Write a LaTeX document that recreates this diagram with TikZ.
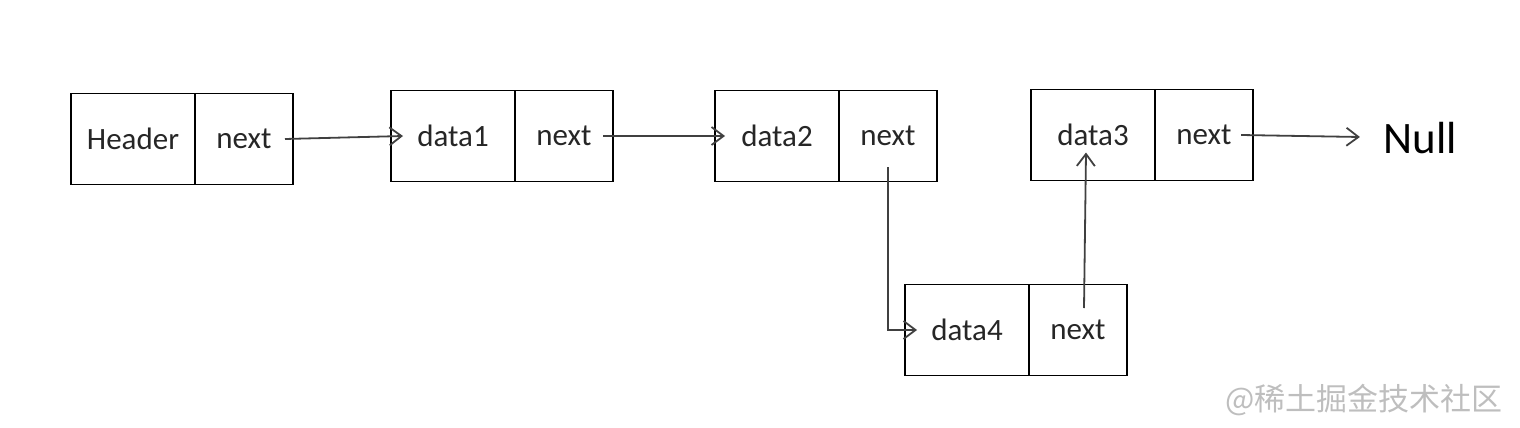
\documentclass[tikz,border=0pt]{standalone}
\usepackage{fontspec}
\setmainfont{Carlito}
\newfontfamily\cjk{Noto Sans CJK SC}
\usetikzlibrary{positioning, arrows.meta}

\definecolor{inkgray}{RGB}{38,38,38}
\definecolor{linkgray}{RGB}{64,64,64}
\definecolor{markgray}{RGB}{190,190,190}

\tikzset{
  cell/.style={draw=black, line width=0.9pt, minimum height=45.5pt, inner sep=0pt, outer sep=0pt,
    text=inkgray, font=\fontsize{15.5}{18}\selectfont},
  datacell/.style={cell, minimum width=62pt},
  nextcell/.style={cell, minimum width=49pt},
  link/.style={draw=linkgray, line width=0.9pt, -{Straight Barb[length=6pt,width=9pt]}}
}

\begin{document}
\begin{tikzpicture}[x=0.5pt, y=-0.5pt]
  \useasboundingbox (0,0) rectangle (1520,428);

  % top row
  \node[datacell] (hdr) at (133,139) {Header};
  \node[nextcell] (hdrn) [right=0pt of hdr] {next};
  \node[datacell] (d1) at (453,136) {data1};
  \node[nextcell] (d1n) [right=0pt of d1] {next};
  \node[datacell] (d2) at (777,136) {data2};
  \node[nextcell] (d2n) [right=0pt of d2] {next};
  \node[datacell] (d3) at (1093,135) {data3};
  \node[nextcell] (d3n) [right=0pt of d3] {next};
  \node[text=black, inner xsep=11.5pt, inner ysep=0pt, font=\fontsize{22.5}{26}\selectfont]
    (null) at (1420,138) {Null};

  % inserted node
  \node[datacell] (d4) at (967,330) {data4};
  \node[nextcell] (d4n) [right=0pt of d4] {next};

  \coordinate (d3in) at ([xshift=-3.5pt,yshift=14pt]d3.south);

  % links
  \draw[link] ([xshift=-4pt]hdrn.east) -- ([xshift=6pt]d1.west);
  \draw[link] ([xshift=-5pt]d1n.east) -- ([xshift=5pt]d2.west);
  \draw[link] ([yshift=-15.5pt]d2n.center) |- ([xshift=6pt]d4.west);
  \draw[link] ([xshift=3pt,yshift=11pt]d4n.center) -- (d3in);
  \draw[link] ([xshift=-6pt]d3n.east) -- (null);

  \node[text=markgray, font=\cjk\fontsize{15.5}{18}\selectfont] (mark) at (1364,400) {@稀土掘金技术社区};
\end{tikzpicture}
\end{document}
